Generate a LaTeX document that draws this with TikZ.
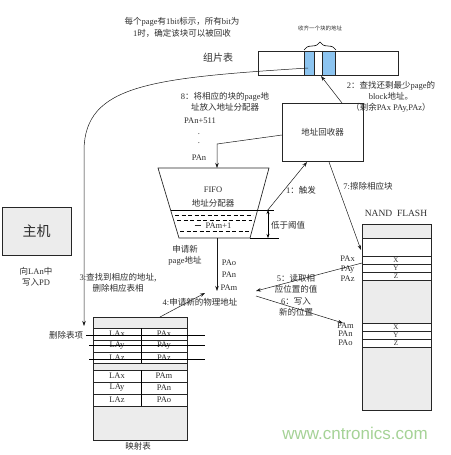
\documentclass[tikz,border=0pt]{standalone}
\usepackage{fontspec}
\setmainfont{Liberation Serif}
\newfontfamily\cjk{Noto Sans CJK SC}
\newfontfamily\wmfont{Liberation Sans}
\usetikzlibrary{arrows.meta,decorations.pathreplacing}
\newcommand\zh[1]{{\cjk #1}}
\definecolor{cellblue}{RGB}{140,196,240}
\definecolor{wmgreen}{RGB}{165,210,150}
\definecolor{ink}{RGB}{45,45,45}
\tikzset{
  txt/.style={font=\fontsize{8.5}{11}\selectfont, text=ink, inner sep=0pt, align=center},
  small/.style={font=\fontsize{8}{8.5}\selectfont, text=ink, inner sep=0pt, align=center},
  box/.style={draw=black!85, line width=0.7pt, inner sep=0pt},
  grayfill/.style={fill=gray!15},
  arr/.style={-{Stealth[length=5pt,width=3.5pt]}, line width=0.5pt, draw=black!90},
  rowline/.style={line width=0.8pt, draw=black!85},
  dline/.style={dashed, dash pattern=on 4pt off 2.5pt, line width=0.5pt},
}
\begin{document}
\begin{tikzpicture}[x=1pt,y=-1pt]
\useasboundingbox (0,0) rectangle (450,455);

% ---- top text
\node[txt, font=\fontsize{8.5}{12}\selectfont] (toptxt) at (182,27) {\zh{每个}page\zh{有}1bit\zh{标示，所有}bit\zh{为}\\1\zh{时，确定该块可以被回收}};

% ---- fragment table
\node[txt, font=\cjk\fontsize{10}{10}\selectfont] (fraglbl) at (218,58) {组片表};
\node[box, minimum width=140pt, minimum height=24pt] (frag) at (328,63) {};
\node[box, fill=cellblue, minimum width=10pt, minimum height=24pt] (b1) at (309,63) {};
\node[box, fill=cellblue, minimum width=13pt, minimum height=24pt] (b2) at (328.5,63) {};
\draw[decorate, decoration={brace, amplitude=8pt}, line width=0.6pt] (304,50) -- (336,50);
\node[txt, font=\cjk\fontsize{5.5}{6}\selectfont] (bracetxt) at (320,28) {收齐一个块的地址};

% ---- address recycler
\node[box, minimum width=81pt, minimum height=58pt, txt, font=\cjk\fontsize{8.5}{10}\selectfont] (rec) at (322.5,132) {地址回收器};
\node[txt] (t2) at (391,97) {2\zh{：查找还剩最少}page\zh{的}\\block\zh{地址。}\\\zh{（剩余}PAx PAy,PAz\zh{）}};

% ---- text 8
\node[txt] (t8) at (225,102) {8\zh{：将相应的块的}page\zh{地}\\\zh{址放入地址分配器}};
\node[txt] (pan511) at (200,121) {PAn+511};
\node[txt] (dot1) at (199,134) {.};
\node[txt] (dot2) at (199,143) {.};
\node[txt] (pan) at (199,158) {PAn};

% ---- FIFO
\coordinate (ftl) at (158,168);
\coordinate (ftr) at (269,168);
\coordinate (fbr) at (250,238);
\coordinate (fbl) at (179,238);
\draw[box] (ftl) -- (ftr) -- (fbr) -- (fbl) -- cycle;
\node[txt] (fifo) at (213,190) {FIFO};
\node[txt, font=\cjk\fontsize{8.5}{10}\selectfont] (alloc) at (213,203) {地址分配器};
\coordinate (thrT) at (268,210);
\coordinate (thrB) at (268,238);
\draw[line width=0.6pt] (170.6,210) -- (274,210);
\draw[dline] (175,215) -- (253,215);
\draw[dline] (177,220) -- (252,220);
\draw[dline] (180,231) -- (249,231);
\node[txt] (pam1) at (213,225.5) {\rule[2.5pt]{6pt}{0.5pt}\hspace{5pt}PAm+1};
\draw[{Stealth[length=4pt,width=3pt]}-{Stealth[length=4pt,width=3pt]}, line width=0.5pt] (thrT) -- (thrB);
\draw[line width=0.6pt] (250,238) -- (279,238);
\node[txt, font=\cjk\fontsize{8.5}{10}\selectfont] (thr) at (288,225) {低于阈值};

% ---- arrow from FIFO down
\coordinate (fifobot) at (217,238);
\coordinate (reqend) at (217,291);
\draw[arr] (fifobot) -- (reqend);
\node[txt, font=\fontsize{8.5}{12.5}\selectfont] (paonm) at (229,275) {PAo\\PAn\\PAm};
\node[txt] (reqtxt) at (185,255) {\zh{申请新}\\page\zh{地址}};

% ---- arrows around recycler
\coordinate (r8) at (282,135);
\coordinate (fifotop) at (217,168);
\draw[arr] (r8) -- (217,144) -- (fifotop);
\coordinate (r2s) at (342,103);
\coordinate (r2e) at (321,76);
\draw[arr] (r2s) -- (r2e);
\coordinate (a1s) at (267,211);
\coordinate (a1e) at (307,162);
\draw[arr] (a1s) -- (a1e);
\node[txt] (t1) at (301,190) {1\zh{：触发}};
\coordinate (a7s) at (329,162);
\coordinate (a7e) at (361,250);
\draw[arr] (a7s) -- (a7e);
\node[txt] (t7) at (368,186) {7:\zh{擦除相应块}};

% ---- NAND FLASH
\node[txt, font=\fontsize{9.5}{10}\selectfont] (nandlbl) at (396,213) {NAND\ \ FLASH};
\node[box, grayfill, minimum width=69pt, minimum height=186pt] (nand) at (396.5,317) {};
\fill[white] (362.5,238) rectangle (430.5,280);
\fill[white] (362.5,323) rectangle (430.5,347);
\foreach \yy in {238,256,264,272,280,323,331,339,347}{
  \draw[rowline] (362,\yy) -- (431,\yy);
}
\node[box, minimum width=69pt, minimum height=186pt] (nandframe) at (396.5,317) {};
\foreach \yy/\ll in {260/X,268/Y,276/Z,327/X,335/Y,343/Z}{
  \node[small, font=\fontsize{7}{7}\selectfont] at (396,\yy) {\ll};
}
\node[small, font=\fontsize{8.5}{10}\selectfont, anchor=east] (paxyz) at (355,269) {PAx\\PAy\\PAz};
\node[small, font=\fontsize{8.5}{8.3}\selectfont, anchor=east] (pamno) at (354,334) {PAm\\PAn\\PAo};

% ---- arrows 4,5,6
\coordinate (a4s) at (160,317);
\coordinate (a4e) at (205,293);
\draw[arr] (a4s) -- (a4e);
\node[txt] (t4) at (200,302) {4:\zh{申请新的物理地址}};
\coordinate (a5s) at (362,263);
\coordinate (a5e) at (256,291);
\draw[arr] (a5s) -- (a5e);
\node[txt] (t5) at (296,284) {5\zh{：读取相}\\\zh{应位置的值}};
\coordinate (a6s) at (256,296);
\coordinate (a6e) at (343,323);
\draw[arr] (a6s) -- (a6e);
\node[txt] (t6) at (296,307) {6\zh{：写入}\\\zh{新的位置}};

% ---- host
\node[box, grayfill, minimum width=69pt, minimum height=48pt, font=\cjk\fontsize{14}{14}\selectfont, text=ink] (host) at (36.5,231) {主机};
\node[txt] (hosttxt) at (36,277) {\zh{向}LAn\zh{中}\\\zh{写入}PD};
\node[txt] (t3) at (118,283) {3:\zh{查找到相应的地址,}\\\zh{删除相应表相}};

% ---- curve from fragment table to mapping table
\coordinate (c3s) at (308,68);
\coordinate (c3m) at (84,150);
\coordinate (c3e) at (84,326);
\draw[arr] (c3s) .. controls (150,78) and (85,85) .. (c3m) -- (c3e);

% ---- mapping table
\node[box, grayfill, minimum width=94pt, minimum height=123pt] (map) at (140,378.5) {};
\fill[white] (93.5,328) rectangle (186.5,363);
\fill[white] (93.5,370) rectangle (186.5,406);
\foreach \yy in {328,340,352,363,370,382,394,406}{
  \draw[rowline] (93,\yy) -- (187,\yy);
}
\draw[line width=0.7pt] (141,328) -- (141,363);
\draw[line width=0.7pt] (141,370) -- (141,406);
\node[box, minimum width=94pt, minimum height=123pt] (mapframe) at (140,378.5) {};
\foreach \yy/\la/\pa in {334/LAx/PAx,346/LAy/PAy,357.5/LAz/PAz,376/LAx/PAm,388/LAy/PAn,400/LAz/PAo}{
  \node[txt] at (117,\yy) {\la};
  \node[txt] at (164,\yy) {\pa};
}
\node[txt, font=\cjk\fontsize{8.5}{10}\selectfont] (dellbl) at (66,335) {删除表项};
\coordinate (s1a) at (86,335);  \coordinate (s1b) at (205,335);
\coordinate (s2a) at (89,345);  \coordinate (s2b) at (205,345);
\coordinate (s3a) at (89,359);  \coordinate (s3b) at (205,359);
\draw[line width=0.6pt] (s1a) -- (s1b);
\draw[line width=0.6pt] (s2a) -- (s2b);
\draw[line width=0.6pt] (s3a) -- (s3b);
\node[txt, font=\cjk\fontsize{8.5}{10}\selectfont] (maplbl) at (138,446) {映射表};

% ---- watermark
\node[font=\wmfont\fontsize{17}{17}\selectfont, text=wmgreen, inner sep=0pt] (wm) at (355,433) {www.cntronics.com};
\end{tikzpicture}
\end{document}
